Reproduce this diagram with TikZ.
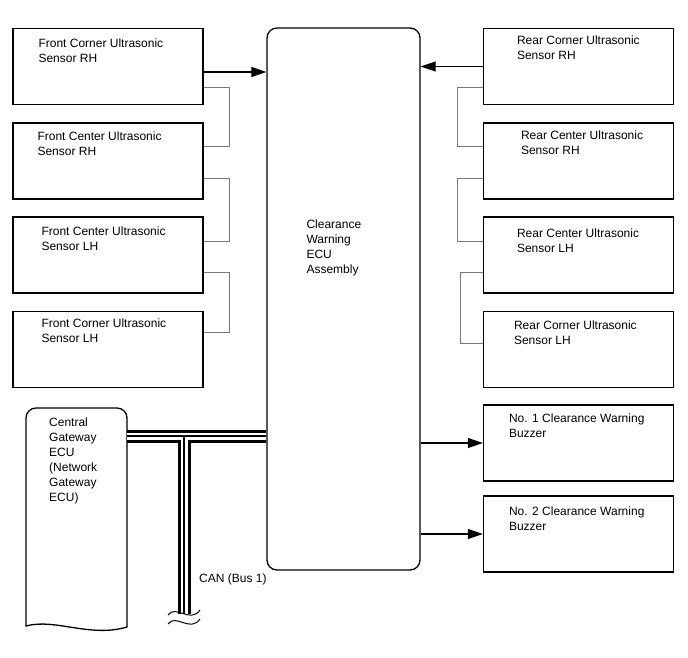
\documentclass[tikz,border=0pt]{standalone}
\usepackage{fontspec}
\setmainfont{Liberation Sans}
\usetikzlibrary{positioning,arrows.meta,calc}
\definecolor{wireGray}{RGB}{120,120,120}
\tikzset{
    base/.style={font=\fontsize{12}{15}\selectfont, align=left},
    unitbox/.style={rectangle, draw=black, line width=1.3pt, minimum width=190pt,
                    minimum height=76pt, inner sep=0pt},
    ecubox/.style={rectangle, draw=black, line width=1.3pt, rounded corners=10pt,
                   minimum width=153pt, minimum height=542pt, inner sep=0pt},
    boxtext/.style={base, inner sep=0pt, anchor=north west},
    flow/.style={-{Triangle[length=15pt,width=10pt]}, line width=1.1pt},
    link/.style={draw=wireGray, line width=1pt},
    canbus/.style={line width=13pt,
                   postaction={draw, white, line width=7pt,
                               postaction={draw, black, line width=1.2pt}}},
    breakmark/.style={line width=1pt}
}
\begin{document}
\begin{tikzpicture}[x=1pt,y=-1pt]
  \useasboundingbox (0,0) rectangle (688,658);

  % ECU
  \node[ecubox] (ecu) at (343.5,299) {};
  \node[boxtext] (ecuText) at ($(ecu.north west)+(40,192)$) {Clearance\\Warning\\ECU\\Assembly};

  % front sensors
  \node[unitbox] (frontCornerRH) at (108,66.5) {};
  \node[unitbox] (frontCenterRH) at (108,161) {};
  \node[unitbox] (frontCenterLH) at (108,255) {};
  \node[unitbox] (frontCornerLH) at (108,349.5) {};
  \node[boxtext] at ($(frontCornerRH.north west)+(26,11)$) {Front Corner Ultrasonic\\Sensor RH};
  \node[boxtext] at ($(frontCenterRH.north west)+(25,9)$) {Front Center Ultrasonic\\Sensor RH};
  \node[boxtext] at ($(frontCenterLH.north west)+(29,10)$) {Front Center Ultrasonic\\Sensor LH};
  \node[boxtext] at ($(frontCornerLH.north west)+(29,8)$) {Front Corner Ultrasonic\\Sensor LH};

  % rear sensors
  \node[unitbox] (rearCornerRH) at (578.5,66.5) {};
  \node[unitbox] (rearCenterRH) at (578.5,161) {};
  \node[unitbox] (rearCenterLH) at (578.5,255) {};
  \node[unitbox] (rearCornerLH) at (578.5,349.5) {};
  \node[boxtext] at ($(rearCornerRH.north west)+(34,8)$) {Rear Corner Ultrasonic\\Sensor RH};
  \node[boxtext] at ($(rearCenterRH.north west)+(38,8)$) {Rear Center Ultrasonic\\Sensor RH};
  \node[boxtext] at ($(rearCenterLH.north west)+(34,12)$) {Rear Center Ultrasonic\\Sensor LH};
  \node[boxtext] at ($(rearCornerLH.north west)+(31,10)$) {Rear Corner Ultrasonic\\Sensor LH};

  % buzzers
  \node[unitbox] (buzzerA) at (578.5,443) {};
  \node[unitbox] (buzzerB) at (578.5,534) {};
  \node[boxtext] at ($(buzzerA.north west)+(26,9)$) {No. 1 Clearance Warning\\Buzzer};
  \node[boxtext] at ($(buzzerB.north west)+(26,11)$) {No. 2 Clearance Warning\\Buzzer};

  % sensor chain links
  \draw[link] ([yshift=-21.5pt]frontCornerRH.east) -- ++(26,0) |- ([yshift=14pt]frontCenterRH.east);
  \draw[link] ([yshift=-17pt]frontCenterRH.east) -- ++(26,0) |- ([yshift=14pt]frontCenterLH.east);
  \draw[link] ([yshift=-17pt]frontCenterLH.east) -- ++(26,0) |- ([yshift=17.5pt]frontCornerLH.east);
  \draw[link] ([yshift=-21.5pt]rearCornerRH.west) -- ++(-25,0) |- ([yshift=14pt]rearCenterRH.west);
  \draw[link] ([yshift=-17pt]rearCenterRH.west) -- ++(-25,0) |- ([yshift=14pt]rearCenterLH.west);
  \draw[link] ([yshift=-17pt]rearCenterLH.west) -- ++(-22,0) |- ([yshift=6.5pt]rearCornerLH.west);

  % signal arrows
  \coordinate (frontTap) at ([yshift=-5.5pt]frontCornerRH.east);
  \draw[flow] (frontTap) -- (frontTap -| ecu.west);
  \draw[flow] (rearCornerRH.west) -- (rearCornerRH.west -| ecu.east);
  \draw[flow] (buzzerA.west -| ecu.east) -- (buzzerA.west);
  \draw[flow] (buzzerB.west -| ecu.east) -- (buzzerB.west);

  % gateway
  \draw[line width=1.3pt, line cap=round, rounded corners=10pt]
    (127,627) -- (127,408) -- (26,408) -- (26,626);
  \draw[line width=1.3pt, line cap=round] (26,626) .. controls (55,618) and (90,638) .. (127,627);
  \node[boxtext] (gatewayText) at (49,418) {Central\\Gateway\\ECU\\(Network\\Gateway\\ECU)};

  % CAN bus
  \coordinate (gw) at (127,436);
  \coordinate (canJoint) at (184,436);
  \coordinate (canEnd) at (184,614);
  \draw[canbus] (gw) -- (gw -| ecu.west) (canJoint) -- (canEnd);
  \draw[breakmark] (168,615) .. controls (176,604) and (190,624) .. (200,610);
  \draw[breakmark] (168,624) .. controls (176,613) and (190,633) .. (200,619);
  \node[boxtext] (canText) at (199,574) {CAN (Bus 1)};
\end{tikzpicture}
\end{document}
